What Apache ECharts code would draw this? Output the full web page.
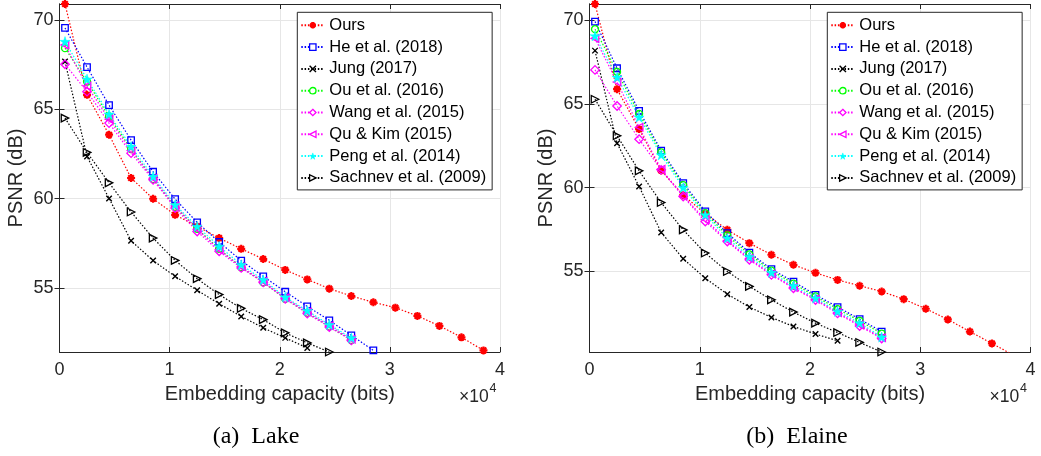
<!DOCTYPE html>
<html><head><meta charset="utf-8">
<script src="https://cdn.jsdelivr.net/npm/echarts@6/dist/echarts.min.js"></script>
<style>html,body{margin:0;padding:0;background:#fff}#c{width:1041px;height:456px}</style>
</head><body><div id="c"></div>
<script>
// ---- data ----
var capacity = [500, 2500, 4500, 6500, 8500, 10500, 12500, 14500, 16500, 18500, 20500, 22500, 24500, 26500, 28500, 30500, 32500, 34500, 36500, 38500];
var methods = ['Ours', 'He et al. (2018)', 'Jung (2017)', 'Ou et al. (2016)', 'Wang et al. (2015)', 'Qu & Kim (2015)', 'Peng et al. (2014)', 'Sachnev et al. (2009)'];
var xTicks = [0, 10000, 20000, 30000, 40000];
var yTicks = [55, 60, 65, 70];
var captions = ['(a)  Lake', '(b)  Elaine'];

// Lake (PSNR, dB)
var oursLake    = [70.89, 65.81, 63.58, 61.16, 60.00, 59.10, 58.45, 57.80, 57.20, 56.63, 56.02, 55.49, 54.97, 54.56, 54.21, 53.91, 53.45, 52.89, 52.25, 51.52];
var heLake      = [69.55, 67.36, 65.23, 63.28, 61.51, 59.98, 58.68, 57.58, 56.54, 55.66, 54.80, 53.98, 53.20, 52.36, 51.52];
var jungLake    = [67.67, 62.36, 60.02, 57.65, 56.54, 55.66, 54.88, 54.13, 53.42, 52.78, 52.22, 51.66];
var ouLake      = [68.42, 66.55, 64.60, 62.78, 61.10, 59.55, 58.32, 57.20, 56.17, 55.33, 54.40, 53.62, 52.85, 52.10];
var wangLake    = [67.52, 65.99, 64.23, 62.55, 61.06, 59.48, 58.17, 57.06, 56.13, 55.32, 54.41, 53.58, 52.83, 52.08];
var quLake      = [68.60, 66.30, 64.45, 62.70, 61.15, 59.60, 58.30, 57.15, 56.20, 55.38, 54.46, 53.66, 52.90, 52.14];
var pengLake    = [68.79, 66.69, 64.73, 62.92, 61.25, 59.66, 58.45, 57.34, 56.31, 55.47, 54.50, 53.74, 52.96, 52.22];
var sachnevLake = [64.51, 62.59, 60.89, 59.26, 57.80, 56.55, 55.53, 54.64, 53.87, 53.24, 52.50, 51.94, 51.43];

// Elaine (PSNR, dB)
var oursElaine    = [70.95, 65.87, 63.49, 61.02, 59.55, 58.45, 57.49, 56.69, 56.00, 55.40, 54.92, 54.50, 54.15, 53.81, 53.35, 52.78, 52.14, 51.42, 50.71, 50.00];
var heElaine      = [69.90, 67.12, 64.58, 62.21, 60.27, 58.58, 57.29, 56.13, 55.14, 54.40, 53.61, 52.88, 52.16, 51.42];
var jungElaine    = [68.17, 62.65, 60.07, 57.33, 55.76, 54.60, 53.65, 52.88, 52.26, 51.72, 51.27, 50.87];
var ouElaine      = [69.45, 66.90, 64.40, 62.10, 60.15, 58.48, 57.15, 56.02, 55.05, 54.28, 53.52, 52.76, 52.06, 51.30];
var wangElaine    = [67.02, 64.87, 62.89, 61.06, 59.47, 57.98, 56.79, 55.70, 54.80, 54.00, 53.30, 52.50, 51.75, 51.00];
var quElaine      = [68.90, 66.30, 63.60, 61.10, 59.50, 58.10, 56.85, 55.78, 54.85, 54.05, 53.35, 52.55, 51.82, 51.05];
var pengElaine    = [69.05, 66.58, 64.20, 61.95, 60.00, 58.38, 56.99, 55.89, 54.94, 54.15, 53.41, 52.62, 51.93, 51.09];
var sachnevElaine = [65.27, 63.09, 61.00, 59.11, 57.48, 56.10, 55.00, 54.11, 53.31, 52.58, 51.92, 51.36, 50.77, 50.20];

var lakeSets = [oursLake, heLake, jungLake, ouLake, wangLake, quLake, pengLake, sachnevLake];
var elaineSets = [oursElaine, heElaine, jungElaine, ouElaine, wangElaine, quElaine, pengElaine, sachnevElaine];
var yRanges = [[51.43, 70.89], [50.20, 70.95]];

// ---- styles ----
var FONT = '"Liberation Sans", Arial, Helvetica, sans-serif';
var AX = '#262626';
var styles = [
  {c: '#ff0000', sym: 'path://M5,0L5,10M0,5L10,5M1.5,1.5L8.5,8.5M8.5,1.5L1.5,8.5', size: 8, fill: '#ff0000', bw: 2.2},
  {c: '#0000ff', sym: 'rect', size: 6.5, fill: 'transparent', bw: 1.3},
  {c: '#000000', sym: 'path://M0,0L10,10M10,0L0,10', size: 5.5, fill: 'transparent', bw: 1.4},
  {c: '#00ff00', sym: 'circle', size: 7, fill: 'transparent', bw: 1.3},
  {c: '#ff00ff', sym: 'diamond', size: 8.5, fill: 'transparent', bw: 1.3},
  {c: '#ff00ff', sym: 'path://M0,5L10,0L10,10Z', size: 7.5, fill: 'transparent', bw: 1.3},
  {c: '#00ffff', sym: 'path://M50,0L61.8,35.1L98.6,35.1L68.8,56.8L79.4,91.9L50,70.2L20.6,91.9L31.2,56.8L1.4,35.1L38.2,35.1Z', size: 10, fill: '#00ffff', bw: 0.5},
  {c: '#000000', sym: 'path://M10,5L0,0L0,10Z', size: 7.5, fill: 'transparent', bw: 1.3}
];

var grids = [
  {left: 59.5, top: 4, width: 440.5, height: 348},
  {left: 589.5, top: 4, width: 441, height: 348}
];

var xAxes = [], yAxes = [], series = [], legends = [], graphics = [];
[lakeSets, elaineSets].forEach(function (sets, g) {
  var common = {gridIndex: g, type: 'value', min: xTicks[0], max: xTicks[xTicks.length - 1], interval: 10000,
    axisLine: {show: true, lineStyle: {color: AX, width: 1}},
    axisTick: {show: true, inside: true, length: 5, lineStyle: {color: AX}}};
  xAxes.push(Object.assign({}, common, {
    position: 'bottom',
    axisLabel: {fontSize: 18, fontFamily: FONT, color: AX, margin: 9, formatter: function (v) { return String(v / 10000); }},
    splitLine: {show: true, lineStyle: {color: '#e6e6e6', width: 1}},
    name: 'Embedding capacity (bits)', nameLocation: 'middle', nameGap: 32,
    nameTextStyle: {fontSize: 20, fontFamily: FONT, color: AX}
  }));
  xAxes.push(Object.assign({}, common, {position: 'top', axisLabel: {show: false}, splitLine: {show: false}}));
  var yc = {gridIndex: g, type: 'value', min: yRanges[g][0], max: yRanges[g][1],
    axisLine: {show: true, lineStyle: {color: AX, width: 1}},
    axisTick: {show: true, inside: true, length: 5, lineStyle: {color: AX}, customValues: yTicks}};
  yAxes.push(Object.assign({}, yc, {
    position: 'left',
    axisLabel: {fontSize: 18, fontFamily: FONT, color: AX, margin: 6, customValues: yTicks},
    splitLine: {show: true, lineStyle: {color: '#e6e6e6', width: 1}},
    name: 'PSNR (dB)', nameLocation: 'middle', nameGap: 33,
    nameTextStyle: {fontSize: 20, fontFamily: FONT, color: AX}
  }));
  yAxes.push(Object.assign({}, yc, {position: 'right', axisLabel: {show: false}, splitLine: {show: false}}));

  sets.forEach(function (vals, i) {
    var s = styles[i];
    series.push({
      type: 'line', name: methods[i], xAxisIndex: g * 2, yAxisIndex: g * 2,
      data: vals.map(function (v, k) { return [capacity[k], v]; }),
      symbol: s.sym, symbolSize: s.size, showAllSymbol: true, clip: true,
      lineStyle: {color: s.c, width: 1.2, type: [1.5, 1.8]},
      itemStyle: {color: s.fill, borderColor: s.c, borderWidth: s.bw},
      emphasis: {disabled: true}, silent: true
    });
  });

  legends.push({
    orient: 'vertical', left: g === 0 ? 297.3 : 827.3, top: 12.3,
    data: methods.map(function (m, i) {
      var s = styles[i];
      return {name: m, itemStyle: {color: s.fill === 'transparent' ? '#fff' : s.fill, borderColor: s.c, borderWidth: s.bw}};
    }),
    selectedMode: false,
    backgroundColor: '#fff', borderColor: AX, borderWidth: 1,
    padding: [4, 6, 3, 3], itemGap: 3.8, itemWidth: 23, itemHeight: 8,
    textStyle: {fontSize: 16.5, fontFamily: FONT, color: '#000', lineHeight: 18}
  });

  var dx = g === 0 ? 0 : 530.5;
  graphics.push({type: 'text', left: 459 + dx, top: 388, silent: true,
    style: {text: '×10', font: '17.5px ' + FONT, fill: AX}});
  graphics.push({type: 'text', left: 489.5 + dx, top: 382, silent: true,
    style: {text: '4', font: '12.5px ' + FONT, fill: AX}});
});

graphics.push({type: 'text', x: 256, y: 437, silent: true,
  style: {text: captions[0], font: '24px "Liberation Serif", "Times New Roman", serif', fill: '#000', align: 'center', verticalAlign: 'middle'}});
graphics.push({type: 'text', x: 797, y: 437, silent: true,
  style: {text: captions[1], font: '24px "Liberation Serif", "Times New Roman", serif', fill: '#000', align: 'center', verticalAlign: 'middle'}});

var chart = echarts.init(document.getElementById('c'), null, {renderer: 'canvas'});
chart.setOption({
  animation: false,
  backgroundColor: '#fff',
  grid: grids,
  xAxis: xAxes,
  yAxis: yAxes,
  legend: legends,
  series: series,
  graphic: graphics
});
</script>
</body></html>
